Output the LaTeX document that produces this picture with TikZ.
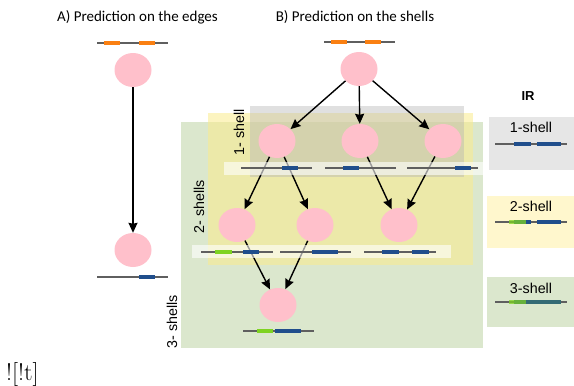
\documentclass[tikz,border=0pt]{standalone}
\usepackage{fontspec}
\newfontfamily\carl{Carlito}
\newfontfamily\libs{Liberation Sans}
\usetikzlibrary{shapes.geometric,arrows.meta}
\definecolor{pinkc}{RGB}{255,192,203}
\definecolor{orangec}{RGB}{250,128,18}
\definecolor{bluec}{RGB}{32,78,140}
\definecolor{greenc}{RGB}{126,211,33}
\definecolor{linec}{RGB}{95,95,95}
\definecolor{greenbox}{RGB}{219,231,205}
\definecolor{yellowbox}{RGB}{250,235,140}
\definecolor{graybox}{RGB}{180,180,180}
\definecolor{irgray}{RGB}{230,230,230}
\definecolor{iryellow}{RGB}{255,247,205}
\newcommand{\eline}[3]{\draw[eln] (#1,#3) -- (#2,#3);}
\newcommand{\blk}[4]{\fill[#4] (#1,#3-2.4) rectangle (#2,#3+2.4);}
\begin{document}
\begin{tikzpicture}[x=1pt,y=-1pt,
  bub/.style={ellipse, fill=pinkc, minimum width=37pt, minimum height=34pt, inner sep=0pt},
  arr/.style={-{Stealth[length=10pt,width=9pt,inset=1pt]}, line width=1.4pt, black},
  eln/.style={line width=1.3pt, linec},
  ttl/.style={font=\carl\fontsize{15}{18}\selectfont, inner sep=0pt},
  shl/.style={font=\libs\fontsize{14.3}{17}\selectfont, inner sep=0pt},
  strip/.style={fill=white, fill opacity=0.6}]
\useasboundingbox (0,0) rectangle (574,386);

% titles
\node[ttl] (tA) at (137.5,17) {A) Prediction on the edges};
\node[ttl] (tB) at (355,17) {B) Prediction on the shells};

% shell boxes
\fill[greenbox] (181,122) rectangle (483,348);
\fill[yellowbox, fill opacity=0.55] (208,113) rectangle (473,265);
\fill[graybox, fill opacity=0.42] (250,106) rectangle (464,177);

% shell labels
\node[shl, rotate=90] (l1) at (239,132.5) {1- shell};
\node[shl, rotate=90] (l2) at (199,206.5) {2- shells};
\node[shl, rotate=90] (l3) at (172,321.5) {3- shells};

% nodes
\node[bub] (a0) at (133,70) {};
\node[bub] (a1) at (133,250) {};
\node[bub] (b0) at (359,69) {};
\node[bub] (c1) at (277,141) {};
\node[bub] (c2) at (360,141) {};
\node[bub] (c3) at (443,141) {};
\node[bub] (d1) at (237,225) {};
\node[bub] (d2) at (315,225) {};
\node[bub] (d3) at (399,225) {};
\node[bub] (e1) at (278,305) {};

% arrows
\draw[arr] (a0) -- (a1);
\draw[arr] (b0) -- (c1);
\draw[arr] (b0) -- (c2);
\draw[arr] (b0) -- (c3);
\draw[arr] (c1) -- (d1);
\draw[arr] (c1) -- (d2);
\draw[arr] (c2) -- (d3);
\draw[arr] (c3) -- (d3);
\draw[arr] (d1) -- (e1);
\draw[arr] (d2) -- (e1);

% strips
\fill[strip] (224,162) rectangle (483,175);
\fill[strip] (192,245) rectangle (451,258);

% edge lines, A
\eline{97}{168}{43}
\blk{104}{120}{43}{orangec}
\blk{139}{155}{43}{orangec}
\eline{97}{168}{277}
\blk{139}{155}{277}{bluec}

% edge lines, B
\eline{324}{395}{42}
\blk{331}{347}{42}{orangec}
\blk{365}{381}{42}{orangec}

\eline{241}{312}{168}
\blk{282}{298}{168}{bluec}
\eline{325}{396}{168}
\blk{343}{359}{168}{bluec}
\eline{407}{478}{168}
\blk{455}{471}{168}{bluec}

\eline{201}{273}{252}
\blk{215}{232}{252}{greenc}
\blk{243}{259}{252}{bluec}
\eline{280}{351}{252}
\blk{312}{328}{252}{bluec}
\blk{322}{338}{252}{bluec}
\eline{364}{436}{252}
\blk{382}{399}{252}{bluec}
\blk{412}{429}{252}{bluec}

\eline{243}{314}{331}
\blk{257}{273}{331}{greenc}
\blk{275}{291}{331}{bluec}
\blk{285}{301}{331}{bluec}

% IR panel
\node[font=\libs\bfseries\fontsize{13}{15}\selectfont, inner sep=0pt] (ir) at (528,96) {IR};
\fill[irgray] (489,117) rectangle (574,170);
\fill[iryellow] (487,196) rectangle (574,248);
\fill[greenbox] (487,277) rectangle (574,327);
\node[shl] (ir1) at (531,127) {1-shell};
\node[shl] (ir2) at (531,206) {2-shell};
\node[shl] (ir3) at (531,288) {3-shell};

\eline{495}{567}{144}
\blk{514}{531}{144}{bluec}
\blk{537}{553}{144}{bluec}
\blk{544}{561}{144}{bluec}

\eline{495}{567}{222}
\blk{514}{531}{222}{bluec}
\blk{509}{526}{222}{greenc, fill opacity=0.75}
\blk{537}{553}{222}{bluec}
\blk{544}{561}{222}{bluec}

\eline{495}{567}{302}
\blk{514}{561}{302}{bluec}
\blk{509}{526}{302}{greenc, fill opacity=0.75}
\blk{526}{561}{302}{greenc, fill opacity=0.22}

% stray text
\node[anchor=base west, inner sep=0pt, font=\fontsize{24}{28}\selectfont] (stray) at (6,380) {![!t]};
\end{tikzpicture}
\end{document}
